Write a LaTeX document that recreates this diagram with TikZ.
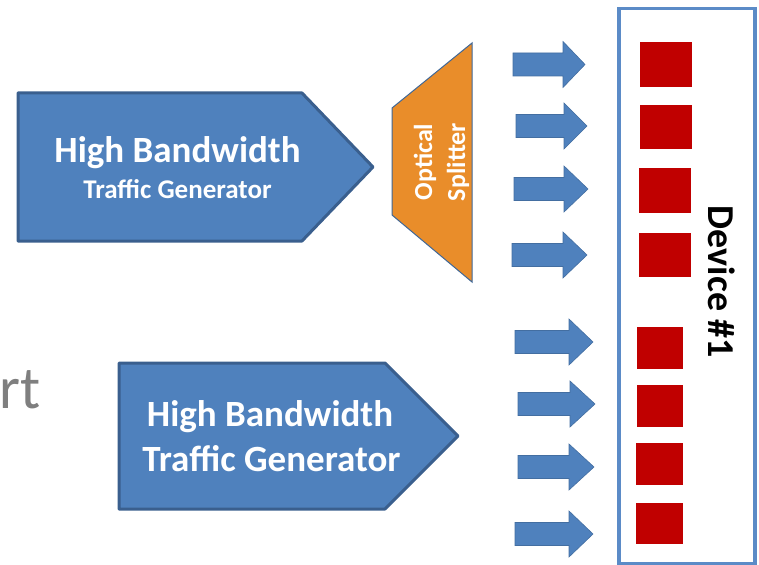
\documentclass[tikz,border=0pt]{standalone}
\usepackage{fontspec}
\setmainfont{Carlito}
\definecolor{boxblue}{HTML}{4F81BD}
\definecolor{boxedge}{HTML}{3A5F8E}
\definecolor{framblue}{HTML}{5B8BC7}
\definecolor{splitorange}{HTML}{E98D2A}
\definecolor{portred}{HTML}{C00000}
\definecolor{slidegray}{HTML}{7F7F7F}
\tikzset{
  genbox/.style={fill=boxblue, draw=boxedge, line width=3pt, line join=round},
  whitetxt/.style={text=white, font=\bfseries, inner sep=0pt},
  splitbox/.style={fill=splitorange, draw=boxblue!80!black, line width=1pt},
  blockarr/.style={fill=boxblue, draw=boxblue!85!black, line width=0.6pt, line join=miter},
  port/.style={fill=portred, draw=none, inner sep=0pt, minimum width=0pt, minimum height=0pt},
  devframe/.style={fill=white, draw=framblue, line width=3.5pt},
  pics/inarrow/.style args={#1/#2}{code={
    \fill[blockarr] (0,-11.5) -- (#1,-11.5) -- (#1,-23) -- (#1+#2,0)
      -- (#1,23) -- (#1,11.5) -- (0,11.5) -- cycle;
  }}
}
\begin{document}
\begin{tikzpicture}[x=1pt,y=-1pt]
\useasboundingbox (0,0) rectangle (759,564);

% tail of the slide text on the left
\node[text=slidegray, anchor=base east, inner sep=0pt, font=\fontsize{60}{60}\selectfont] (slideword) at (41,408) {rt};

% upper traffic generator
\draw[genbox] (18,93) -- (302,93) -- (373,167) -- (302,241) -- (18,241) -- cycle;
\node[whitetxt, anchor=base, font=\bfseries\fontsize{37}{40}\selectfont] (gen1a) at (177.5,163) {High Bandwidth};
\node[whitetxt, anchor=base, font=\bfseries\fontsize{27}{30}\selectfont] (gen1b) at (177.5,198) {Traffic Generator};

% lower traffic generator
\draw[genbox] (119,363) -- (385,363) -- (458,436) -- (385,509) -- (119,509) -- cycle;
\node[whitetxt, anchor=base, font=\bfseries\fontsize{37}{40}\selectfont] (gen2a) at (270,426) {High Bandwidth};
\node[whitetxt, anchor=base, font=\bfseries\fontsize{37}{40}\selectfont] (gen2b) at (271.5,471) {Traffic Generator};

% optical splitter
\draw[splitbox] (392,108) -- (472,43) -- (472,282) -- (392,215) -- cycle;
\node[whitetxt, anchor=base, rotate=90, font=\bfseries\fontsize{26}{30}\selectfont] (splitA) at (432,162) {Optical};
\node[whitetxt, anchor=base, rotate=90, font=\bfseries\fontsize{26}{30}\selectfont] (splitB) at (465,162) {Splitter};

% block arrows into the device
\pic at (513,64.5) {inarrow=50/22};
\pic at (516,126) {inarrow=48/23};
\pic at (514,189) {inarrow=50/24};
\pic at (512,255) {inarrow=51/24};
\pic at (515,342) {inarrow=54/24};
\pic at (518,404) {inarrow=52/25};
\pic at (518,467) {inarrow=51/25};
\pic at (515,534) {inarrow=54/24};

% device frame
\node[devframe, anchor=north west, minimum width=136pt, minimum height=555pt, inner sep=0pt] (device) at (617,7) {};

% ports
\node[port, anchor=north west, minimum width=52pt, minimum height=45pt] (p1) at (640,42) {};
\node[port, anchor=north west, minimum width=52pt, minimum height=44pt] (p2) at (640,105) {};
\node[port, anchor=north west, minimum width=52pt, minimum height=45pt] (p3) at (639,168) {};
\node[port, anchor=north west, minimum width=52pt, minimum height=44pt] (p4) at (639,233) {};
\node[port, anchor=north west, minimum width=46pt, minimum height=42pt] (p5) at (637,327) {};
\node[port, anchor=north west, minimum width=46pt, minimum height=42pt] (p6) at (637,385) {};
\node[port, anchor=north west, minimum width=47pt, minimum height=42pt] (p7) at (636,443) {};
\node[port, anchor=north west, minimum width=47pt, minimum height=41pt] (p8) at (636,503) {};

% device label
\node[anchor=base, rotate=-90, inner sep=0pt, font=\bfseries\fontsize{38}{40}\selectfont] (devlabel) at (708,282) {Device \#1};
\end{tikzpicture}
\end{document}
